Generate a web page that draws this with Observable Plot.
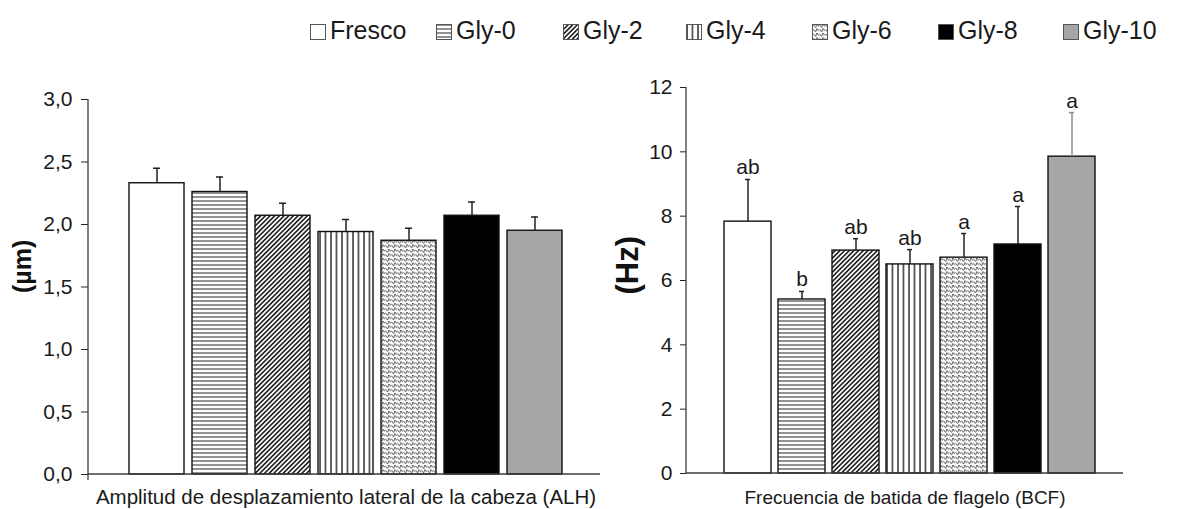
<!DOCTYPE html>
<html>
<head>
<meta charset="utf-8">
<script src="https://cdn.jsdelivr.net/npm/d3@7"></script>
<script src="https://cdn.jsdelivr.net/npm/@observablehq/plot@0.6"></script>
<style>
  html, body { margin: 0; padding: 0; background: #fff; }
  body { font-family: "Liberation Sans", Arial, sans-serif; }
  #wrap { position: relative; width: 1183px; height: 509px; overflow: hidden; background: #fff; }
  #legend { position: absolute; left: 0; top: 0; width: 1183px; height: 60px; }
  .item { position: absolute; top: 17px; height: 26px; display: flex; align-items: flex-end; font-size: 25px; color: #1a1a1a; line-height: 25px; }
  .item svg { margin-right: 4px; margin-bottom: 3px; }
  #left { position: absolute; left: 0; top: 60px; }
  #right { position: absolute; left: 600px; top: 60px; }
  #left svg [aria-label="y-axis tick label"] text, #left svg [aria-label="y-axis"] text,
  #right svg [aria-label="y-axis tick label"] text, #right svg [aria-label="y-axis"] text { font-size: 21px; fill: #1a1a1a; }
</style>
</head>
<body>
<svg width="0" height="0" style="position:absolute">
  <defs>
    <pattern id="p-h" width="6" height="4" patternUnits="userSpaceOnUse">
      <rect width="6" height="4" fill="white"/>
      <line x1="0" y1="1" x2="6" y2="1" stroke="#3a3a3a" stroke-width="1.1"/>
    </pattern>
    <pattern id="p-d" width="3.3" height="3.3" patternUnits="userSpaceOnUse" patternTransform="rotate(45)">
      <rect width="3.3" height="3.3" fill="white"/>
      <line x1="0.8" y1="0" x2="0.8" y2="3.3" stroke="#1e1e1e" stroke-width="1.6"/>
    </pattern>
    <pattern id="p-v" width="5.5" height="6" patternUnits="userSpaceOnUse">
      <rect width="5.5" height="6" fill="white"/>
      <line x1="1" y1="0" x2="1" y2="6" stroke="#111" stroke-width="1.3"/>
    </pattern>
    <pattern id="p-w" width="6" height="4.5" patternUnits="userSpaceOnUse">
      <rect width="6" height="4.5" fill="white"/>
      <path d="M-0.5,3.2 Q0.75,0.6 1.5,1 T3,3 T4.5,1 T6.5,3.2" fill="none" stroke="#4a4a4a" stroke-width="0.9"/>
    </pattern>
  </defs>
</svg>
<div id="wrap">
  <div id="legend"></div>
  <div id="left"></div>
  <div id="right"></div>
</div>
<script>
// ---- data ----
const series = ["Fresco", "Gly-0", "Gly-2", "Gly-4", "Gly-6", "Gly-8", "Gly-10"];
const alhMean = [2.33, 2.26, 2.07, 1.94, 1.87, 2.07, 1.95];
const alhUpper = [2.45, 2.38, 2.17, 2.04, 1.97, 2.18, 2.06];
const bcfMean = [7.83, 5.41, 6.93, 6.50, 6.71, 7.12, 9.85];
const bcfUpper = [9.14, 5.66, 7.30, 6.96, 7.46, 8.30, 11.22];
const bcfLetters = ["ab", "b", "ab", "ab", "a", "a", "a"];
const alhTicks = [0, 0.5, 1.0, 1.5, 2.0, 2.5, 3.0];
const bcfTicks = [0, 2, 4, 6, 8, 10, 12];
const alhTitle = "Amplitud de desplazamiento lateral de la cabeza (ALH)";
const bcfTitle = "Frecuencia de batida de flagelo (BCF)";

// ---- styles ----
const fills = ["white", "url(#p-h)", "url(#p-d)", "url(#p-v)", "url(#p-w)", "black", "#a6a6a6"];
const legendX = [310, 436, 563, 686, 812, 938, 1063];

// legend
const legend = document.getElementById("legend");
series.forEach((s, i) => {
  const it = document.createElement("div");
  it.className = "item";
  it.style.left = legendX[i] + "px";
  it.innerHTML = `<svg width="16" height="16"><rect x="0.5" y="0.5" width="15" height="15" fill="${fills[i]}" stroke="#555" stroke-width="1"/></svg><span>${s}</span>`;
  legend.appendChild(it);
});

const alh = series.map((s, i) => ({s, v: alhMean[i], e: alhUpper[i], fill: fills[i]}));
const bcf = series.map((s, i) => ({s, v: bcfMean[i], e: bcfUpper[i], t: bcfLetters[i], fill: fills[i]}));

function frameLines(endTicks) {
  return (index, scales, values, dims) => {
    const g = d3.create("svg:g").attr("stroke", "#3c3c3c").attr("stroke-width", 1.3).attr("fill", "none");
    const x0 = dims.marginLeft, x1 = dims.width - dims.marginRight;
    const y0 = dims.height - dims.marginBottom, yt = dims.marginTop;
    g.append("line").attr("x1", x0).attr("x2", x0).attr("y1", yt).attr("y2", y0);
    g.append("line").attr("x1", x0).attr("x2", x1).attr("y1", y0).attr("y2", y0);
    if (endTicks) {
      g.append("line").attr("x1", x0).attr("x2", x0).attr("y1", y0).attr("y2", y0 + 6);
      g.append("line").attr("x1", x1).attr("x2", x1).attr("y1", y0 - 1).attr("y2", y0 + 6);
    }
    return g.node();
  };
}

function barMarks(data, errStroke) {
  const m = [];
  data.forEach(d => {
    m.push(Plot.barY([d], {x: "s", y: "v", fill: d.fill, stroke: "#111", strokeWidth: 1.4}));
  });
  m.push(Plot.ruleX(data, {x: "s", y1: "v", y2: "e", stroke: errStroke, strokeWidth: 1.5}));
  return m;
}

// ---- left chart: ALH ----
const leftPlot = Plot.plot({
  width: 610, height: 449,
  marginLeft: 88, marginRight: 7, marginTop: 39, marginBottom: 35,
  style: {fontFamily: "'Liberation Sans', Arial, sans-serif", fontSize: "21px", color: "#222", background: "white"},
  x: {domain: series, range: [129, 562], paddingInner: 0.127, paddingOuter: 0, axis: null},
  y: {domain: [0, 3], ticks: alhTicks, tickFormat: d => d.toFixed(1).replace(".", ","), tickSize: 7, tickPadding: 9, label: null},
  marks: [
    ...barMarks(alh, d => "#222"),
    Plot.tickY(alh, {x: "s", y: "e", stroke: "#222", strokeWidth: 1.5, insetLeft: 24, insetRight: 24}),
    frameLines(true),
    Plot.text([alhTitle], {frameAnchor: "bottom", text: d => d, dy: 23, lineAnchor: "middle", fontSize: 20.5, fill: "#1a1a1a"}),
    Plot.text(["(µm)"], {frameAnchor: "left", text: d => d, rotate: -90, dx: -66, dy: 6, fontSize: 25, fontWeight: "bold", fill: "#111"})
  ]
});
document.getElementById("left").appendChild(leftPlot);

// ---- right chart: BCF ----
const rightPlot = Plot.plot({
  width: 583, height: 449,
  marginLeft: 86, marginRight: 60, marginTop: 27, marginBottom: 36,
  style: {fontFamily: "'Liberation Sans', Arial, sans-serif", fontSize: "21px", color: "#222", background: "white"},
  x: {domain: series, range: [121, 498], paddingInner: 0.125, paddingOuter: 0, axis: null},
  y: {domain: [0, 12], ticks: bcfTicks, tickSize: 6, tickPadding: 8, label: null},
  marks: [
    ...barMarks(bcf, d => d.s === "Gly-10" ? "#8c8c8c" : "#222"),
    Plot.tickY(bcf, {x: "s", y: "e", stroke: d => d.s === "Gly-10" ? "#8c8c8c" : "#222", strokeWidth: 1.5, insetLeft: 21, insetRight: 21}),
    Plot.text(bcf, {x: "s", y: "e", text: "t", dy: -5, lineAnchor: "bottom", fontSize: 21, fill: "#1a1a1a"}),
    frameLines(false),
    Plot.text([bcfTitle], {frameAnchor: "bottom", text: d => d, dy: 24, lineAnchor: "middle", fontSize: 19, fill: "#1a1a1a"}),
    Plot.text(["(Hz)"], {frameAnchor: "left", text: d => d, rotate: -90, dx: -58, dy: 14, fontSize: 31, fontWeight: "bold", fill: "#111"})
  ]
});
document.getElementById("right").appendChild(rightPlot);
</script>
</body>
</html>
